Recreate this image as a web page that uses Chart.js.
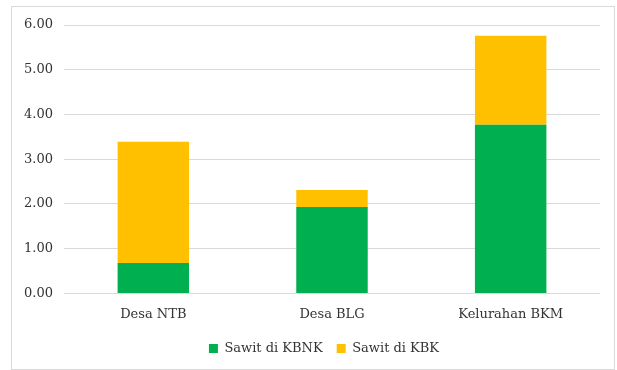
<!DOCTYPE html>
<html>
<head>
<meta charset="utf-8">
<script src="https://cdn.jsdelivr.net/npm/chart.js@4"></script>
<style>
  html, body { margin: 0; padding: 0; background: #fff; }
  #wrap { position: relative; width: 617px; height: 370px; }
  #frame { position: absolute; left: 11px; top: 6px; width: 602px; height: 362px; border: 1px solid #d9d9d9; pointer-events: none; }
</style>
</head>
<body>
<div id="wrap">
  <canvas id="chart" width="617" height="370"></canvas>
  <div id="frame"></div>
</div>
<script>
const categories = ['Desa NTB', 'Desa BLG', 'Kelurahan BKM'];
const sawitKBNK = [0.68, 1.93, 3.77];
const sawitKBK = [2.71, 0.38, 1.99];
const yTicks = [0, 1, 2, 3, 4, 5, 6];

const font = { family: 'DejaVu Serif', size: 13 };

// legend sits a little right of the canvas centre in the original
const shiftLegend = {
    id: 'shiftLegend',
    afterLayout(chart) {
        chart.legend.left += 24;
        chart.legend.right += 24;
    }
};

const ctx = document.getElementById('chart').getContext('2d');
new Chart(ctx, {
    type: 'bar',
    data: {
        labels: categories,
        datasets: [{
            label: 'Sawit di KBNK',
            data: sawitKBNK,
            backgroundColor: '#00B050'
        }, {
            label: 'Sawit di KBK',
            data: sawitKBK,
            backgroundColor: '#FFC000'
        }]
    },
    options: {
        responsive: false,
        animation: false,
        layout: { padding: { top: 25, right: 17, bottom: 5, left: 0 } },
        datasets: { bar: { categoryPercentage: 1, barPercentage: 0.4 } },
        plugins: {
            tooltip: { enabled: false },
            legend: {
                position: 'bottom',
                labels: {
                    boxWidth: 9, boxHeight: 9, padding: 14,
                    color: '#333',
                    font: font
                }
            }
        },
        scales: {
            x: {
                stacked: true,
                afterFit: s => { s.height += 1; },
                grid: { display: false },
                border: { display: false },
                ticks: { color: '#333', padding: 5, font: font }
            },
            y: {
                stacked: true,
                min: 0, max: 6,
                afterFit: s => { s.width = 64; },
                afterBuildTicks: s => { s.ticks = yTicks.map(v => ({ value: v })); },
                grid: { color: '#d9d9d9', drawTicks: false },
                border: { display: false },
                ticks: {
                    color: '#333', padding: 11,
                    font: font,
                    callback: v => v.toFixed(2)
                }
            }
        }
    },
    plugins: [shiftLegend]
});
</script>
</body>
</html>
